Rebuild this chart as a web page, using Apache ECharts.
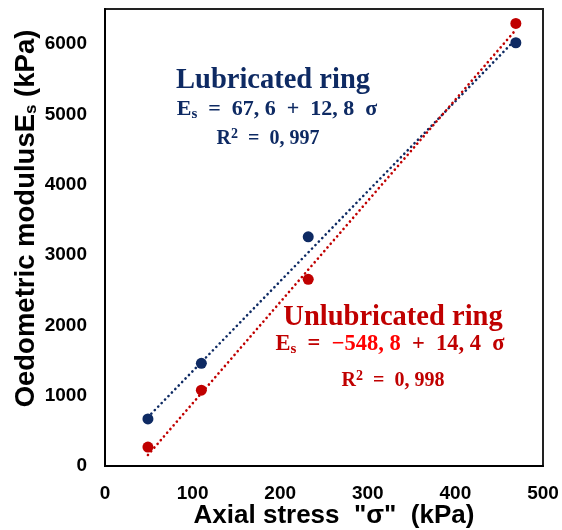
<!DOCTYPE html>
<html>
<head>
<meta charset="utf-8">
<script src="https://cdn.jsdelivr.net/npm/echarts@6/dist/echarts.min.js"></script>
<style>
  html, body { margin: 0; padding: 0; background: #fff; }
  #chart { width: 562px; height: 530px; }
</style>
</head>
<body>
<div id="chart"></div>
<script>
// Axial stress (kPa) and oedometric modulus (kPa) measurements
const lubStress = [49, 110, 232, 469];
const lubModulus = [670, 1460, 3260, 6020];
const unlubStress = [49, 110, 232, 469];
const unlubModulus = [270, 1078, 2655, 6295];

// Linear fits E_s = a + b·σ
const lubFit = { a: 67.6, b: 12.8 };
const unlubFit = { a: -548.8, b: 14.4 };

const xTicks = [0, 100, 200, 300, 400, 500];
const yTicks = [0, 1000, 2000, 3000, 4000, 5000, 6000];

const NAVY = '#0e2a63';
const DARKRED = '#c00000';
const RED = '#ff0000';
const SANS = "'Liberation Sans', Arial, sans-serif";
const SERIF = "'Liberation Serif', 'DejaVu Serif', serif";

function fitLine(xs, fit) {
  const lo = Math.min(...xs), hi = Math.max(...xs);
  return [[lo, fit.a + fit.b * lo], [hi, fit.a + fit.b * hi]];
}

const eq = (color, size, extra) =>
  Object.assign({ fontFamily: SERIF, fontWeight: 'bold', fontSize: size, fill: color }, extra || {});

const chart = echarts.init(document.getElementById('chart'), null, { renderer: 'canvas' });

chart.setOption({
  animation: false,
  grid: {
    left: 105, right: 19, top: 9, bottom: 64,
    outerBoundsMode: 'none', containLabel: false,
    show: true, borderColor: '#222', borderWidth: 2
  },
  xAxis: {
    type: 'value', min: 0, max: 500, interval: 100,
    axisLine: { show: true, lineStyle: { color: '#000', width: 2 } },
    axisTick: { show: false },
    splitLine: { show: false },
    axisLabel: {
      color: '#000', fontFamily: SANS, fontWeight: 'bold', fontSize: 19, margin: 18,
      formatter: v => xTicks.includes(v) ? String(v) : ''
    },
    name: 'Axial stress  "σ"  (kPa)',
    nameLocation: 'middle', nameGap: 37, nameMoveOverlap: false,
    nameTextStyle: {
      color: '#000', fontFamily: SANS, fontWeight: 'bold', fontSize: 26,
      padding: [0, 0, 0, 20]
    }
  },
  yAxis: {
    type: 'value', min: 0, max: 6500, interval: 1000,
    axisLine: { show: true, lineStyle: { color: '#000', width: 2 } },
    axisTick: { show: false },
    splitLine: { show: false },
    axisLabel: {
      color: '#000', fontFamily: SANS, fontWeight: 'bold', fontSize: 19, margin: 18,
      formatter: v => yTicks.includes(v) ? String(v) : ''
    },
    name: '{t|Oedometric modulusE}{s|s}{t| (kPa)}',
    nameLocation: 'middle', nameGap: 65, nameRotate: 90, nameMoveOverlap: false,
    nameTextStyle: {
      padding: [0, 0, 0, 38],
      rich: {
        t: { color: '#000', fontFamily: SANS, fontWeight: 'bold', fontSize: 27.5 },
        s: { color: '#000', fontFamily: SANS, fontWeight: 'bold', fontSize: 17, verticalAlign: 'bottom', padding: [11, 0, 0, 0] }
      }
    }
  },
  series: [
    {
      name: 'Lubricated fit', type: 'line', data: fitLine(lubStress, lubFit),
      symbol: 'none', z: 2,
      lineStyle: { color: NAVY, width: 2.6, type: [0.1, 4.8], cap: 'round' }
    },
    {
      name: 'Unlubricated fit', type: 'line', data: fitLine(unlubStress, unlubFit),
      symbol: 'none', z: 2,
      lineStyle: { color: DARKRED, width: 2.6, type: [0.1, 4.8], cap: 'round' }
    },
    {
      name: 'Lubricated ring', type: 'scatter', z: 3,
      data: lubStress.map((x, i) => [x, lubModulus[i]]),
      symbol: 'circle', symbolSize: 11, itemStyle: { color: NAVY, opacity: 1 }
    },
    {
      name: 'Unlubricated ring', type: 'scatter', z: 3,
      data: unlubStress.map((x, i) => [x, unlubModulus[i]]),
      symbol: 'circle', symbolSize: 11, itemStyle: { color: DARKRED, opacity: 1 }
    }
  ],
  graphic: [
    {
      type: 'text', x: 273, y: 81,
      style: {
        text: 'Lubricated ring', align: 'center', verticalAlign: 'middle',
        font: "bold 28.5px 'Liberation Serif'", fill: NAVY
      }
    },
    {
      type: 'text', x: 277, y: 109,
      style: {
        text: '{e|E}{s|s}{e|  =  67, 6  +  12, 8  σ}', align: 'center', verticalAlign: 'middle',
        rich: { e: eq(NAVY, 22), s: eq(NAVY, 15, { padding: [11, 0, 0, 0] }) }
      }
    },
    {
      type: 'text', x: 268, y: 139,
      style: {
        text: '{e|R}{p|2}{e|  =  0, 997}', align: 'center', verticalAlign: 'middle',
        rich: { e: eq(NAVY, 20), p: eq(NAVY, 14, { padding: [0, 0, 10, 0] }) }
      }
    },
    {
      type: 'text', x: 393, y: 318,
      style: {
        text: 'Unlubricated ring', align: 'center', verticalAlign: 'middle',
        font: "bold 28.5px 'Liberation Serif'", fill: DARKRED
      }
    },
    {
      type: 'text', x: 390, y: 344,
      style: {
        text: '{e|E}{s|s}{e|  =  }{r|−548, 8}{e|  +  14, 4  σ}', align: 'center', verticalAlign: 'middle',
        rich: {
          e: eq(DARKRED, 22.5),
          r: eq(RED, 22.5),
          s: eq(DARKRED, 15, { padding: [11, 0, 0, 0] })
        }
      }
    },
    {
      type: 'text', x: 393, y: 381,
      style: {
        text: '{e|R}{p|2}{e|  =  0, 998}', align: 'center', verticalAlign: 'middle',
        rich: { e: eq(DARKRED, 20), p: eq(DARKRED, 14, { padding: [0, 0, 10, 0] }) }
      }
    }
  ]
});
</script>
</body>
</html>
